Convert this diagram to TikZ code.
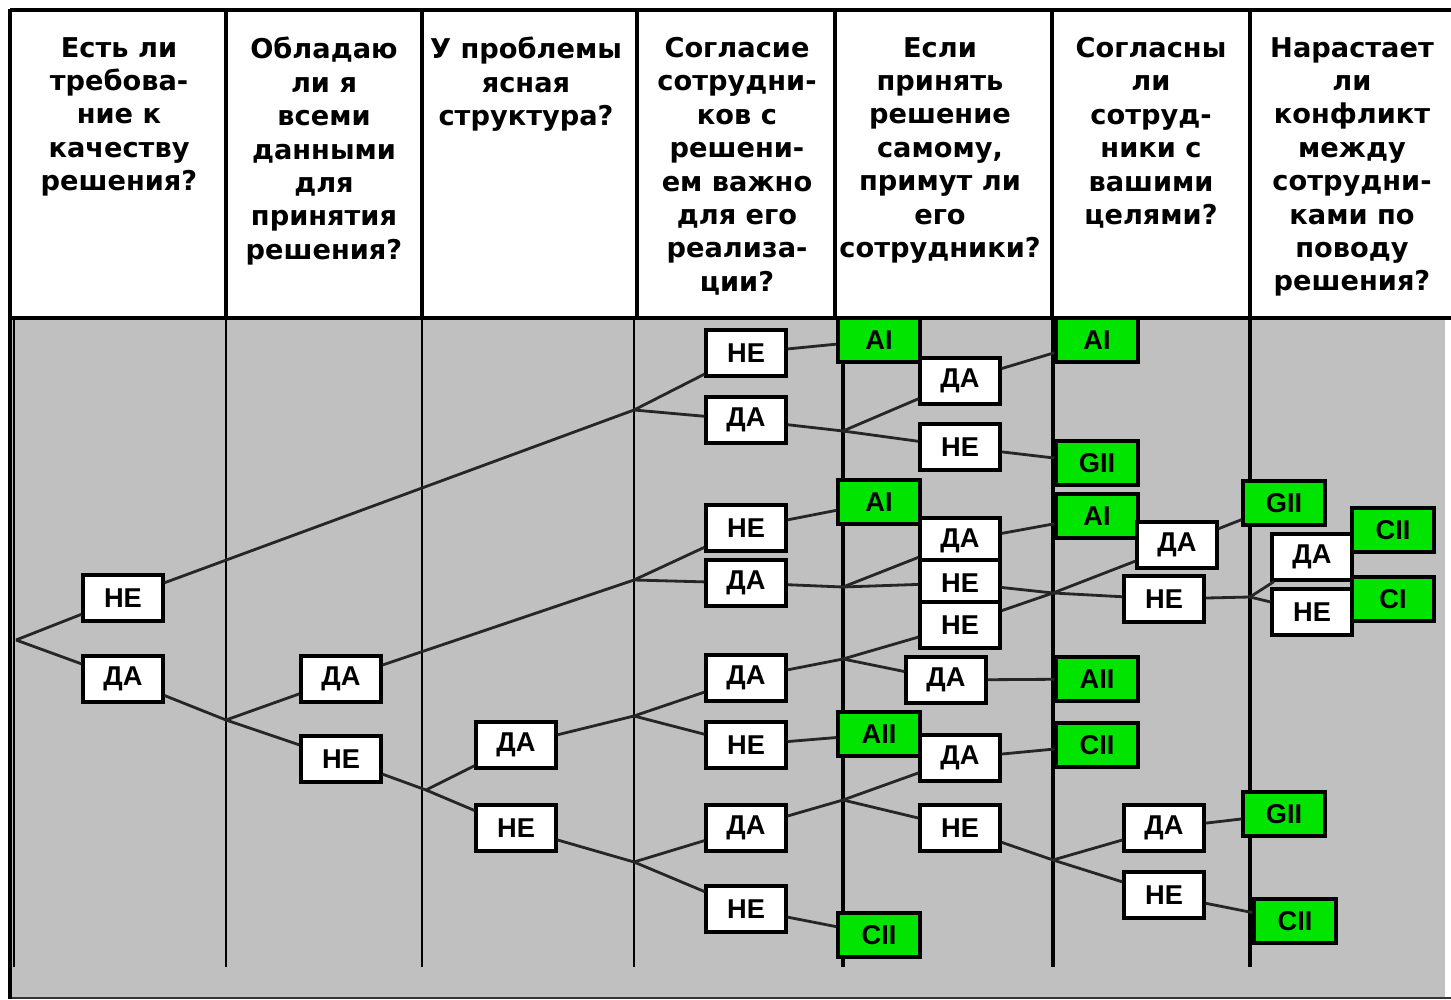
\documentclass[tikz,border=0pt]{standalone}
\usepackage{fontspec}
\setmainfont{DejaVu Sans}
\newfontfamily\boxfont{Liberation Sans}
\usetikzlibrary{positioning}
\definecolor{cellgray}{RGB}{192,192,192}
\definecolor{resgreen}{RGB}{0,228,0}

\begin{document}
\begin{tikzpicture}[x=0.02cm, y=-0.02cm,
  ans/.style={draw=black, line width=1.8pt, fill=white, minimum width=1.6cm, minimum height=0.92cm, inner sep=0pt, font=\boxfont\bfseries\fontsize{15.5}{15.5}\selectfont},
  res/.style={ans, fill=resgreen, minimum width=1.64cm, minimum height=0.88cm},
  head/.style={anchor=north, align=center, inner sep=0pt, font=\bfseries\fontsize{15.5}{19}\selectfont},
  link/.style={draw=black!85, line width=1.6pt},
  thinline/.style={line width=1.1pt},
  thickline/.style={line width=2pt}]
\useasboundingbox (0,0) rectangle (1451,1000);
\fill [white] (0,0) rectangle (1451,1000);
\fill [cellgray] (12,320) rectangle (1445,997);
\draw [black!80, line width=1pt] (10,998) -- (1451,998);
\draw [line width=2.3pt] (10,10) -- (1451,10);
\draw [line width=2.3pt] (10,318) -- (1451,318);
\draw [line width=2.3pt] (10,9) -- (10,999);
\foreach \x in {226,422,637,835,1052,1250}
  \draw [line width=2.3pt] (\x,10) -- (\x,318);
\foreach \x in {14,226,422,634}
  \draw [thinline] (\x,320) -- (\x,967);
\foreach \x in {843,1053,1250}
  \draw [thickline] (\x,320) -- (\x,967);

\node [head] (q1) at (119,37) {Есть ли\\требова-\\ние к\\качеству\\решения?};
\node [head] (q2) at (324,37) {Обладаю\\ли я\\всеми\\данными\\для\\принятия\\решения?};
\node [head] (q3) at (526,37) {У проблемы\\ясная\\структура?};
\node [head] (q4) at (737,37) {Согласие\\сотрудни-\\ков с\\решени-\\ем важно\\для его\\реализа-\\ции?};
\node [head] (q5) at (940,37) {Если\\принять\\решение\\самому,\\примут ли\\его\\сотрудники?};
\node [head] (q6) at (1151,37) {Согласны\\ли\\сотруд-\\ники с\\вашими\\целями?};
\node [head] (q7) at (1352,37) {Нарастает\\ли\\конфликт\\между\\сотрудни-\\ками по\\поводу\\решения?};

\coordinate (r) at (16,640);
\coordinate (p2) at (226,720);
\coordinate (p3) at (426,790);
\coordinate (p4a) at (634,410);
\coordinate (p4b) at (634,580);
\coordinate (p4c) at (634,716);
\coordinate (p4d) at (634,862);
\coordinate (p5a) at (843,431);
\coordinate (p5b) at (843,587);
\coordinate (p5c) at (843,659);
\coordinate (p5d) at (843,800);
\coordinate (p6a) at (1053,593);
\coordinate (p6b) at (1053,860);
\coordinate (p7) at (1250,597);

\node [ans] (ne1) at (123,598) {НЕ};
\node [ans] (da1) at (123,679) {ДА};
\node [ans] (da2) at (341,679) {ДА};
\node [ans] (ne2) at (341,759) {НЕ};
\node [ans] (da3) at (516,745) {ДА};
\node [ans] (ne3) at (516,828) {НЕ};
\node [ans] (ne4a) at (746,353) {НЕ};
\node [ans] (da4a) at (746,420) {ДА};
\node [ans] (ne4b) at (746,528) {НЕ};
\node [ans] (da4b) at (746,583) {ДА};
\node [ans] (da4c) at (746,678) {ДА};
\node [ans] (ne4c) at (746,745) {НЕ};
\node [ans] (da4d) at (746,828) {ДА};
\node [ans] (ne4d) at (746,909) {НЕ};
\node [res] (ai5a) at (879,340) {AI};
\node [res] (ai5b) at (879,502) {AI};
\node [res] (aii5) at (879,734) {AII};
\node [res] (cii5) at (879,935) {CII};
\node [ans] (da5a) at (960,381) {ДА};
\node [ans] (ne5a) at (960,447) {НЕ};
\node [ans] (da5b) at (960,541) {ДА};
\node [ans] (ne5b) at (960,583) {НЕ};
\node [ans] (ne5c) at (960,625) {НЕ};
\node [ans] (da5c) at (946,680) {ДА};
\node [ans] (da5d) at (960,758) {ДА};
\node [ans] (ne5d) at (960,828) {НЕ};
\node [res] (ai6a) at (1097,340) {AI};
\node [res] (gii6) at (1097,463) {GII};
\node [res] (ai6b) at (1097,516) {AI};
\node [res] (aii6) at (1097,679) {AII};
\node [res] (cii6) at (1097,745) {CII};
\node [ans] (da6a) at (1177,545) {ДА};
\node [ans] (ne6a) at (1164,599) {НЕ};
\node [ans] (da6b) at (1164,828) {ДА};
\node [ans] (ne6b) at (1164,895) {НЕ};
\node [res] (gii7a) at (1284,503) {GII};
\node [ans] (da7) at (1312,557) {ДА};
\node [ans] (ne7) at (1312,612) {НЕ};
\node [res] (cii7a) at (1393,530) {CII};
\node [res] (ci7) at (1393,599) {CI};
\node [res] (gii7b) at (1284,814) {GII};
\node [res] (cii7b) at (1295,921) {CII};

\draw [link] (r) -- (ne1);
\draw [link] (r) -- (da1);
\draw [link] (ne1) -- (p4a);
\draw [link] (da1) -- (p2);
\draw [link] (p2) -- (da2);
\draw [link] (p2) -- (ne2);
\draw [link] (da2) -- (p4b);
\draw [link] (ne2) -- (p3);
\draw [link] (p3) -- (da3);
\draw [link] (p3) -- (ne3);
\draw [link] (da3) -- (p4c);
\draw [link] (ne3) -- (p4d);
\draw [link] (p4a) -- (ne4a);
\draw [link] (p4a) -- (da4a);
\draw [link] (p4b) -- (ne4b);
\draw [link] (p4b) -- (da4b);
\draw [link] (p4c) -- (da4c);
\draw [link] (p4c) -- (ne4c);
\draw [link] (p4d) -- (da4d);
\draw [link] (p4d) -- (ne4d);
\draw [link] (ne4a) -- (ai5a);
\draw [link] (ne4b) -- (ai5b);
\draw [link] (ne4c) -- (aii5);
\draw [link] (ne4d) -- (cii5);
\draw [link] (da4a) -- (p5a);
\draw [link] (p5a) -- (da5a);
\draw [link] (p5a) -- (ne5a);
\draw [link] (da4b) -- (p5b);
\draw [link] (p5b) -- (da5b);
\draw [link] (p5b) -- (ne5b);
\draw [link] (da4c) -- (p5c);
\draw [link] (p5c) -- (ne5c);
\draw [link] (p5c) -- (da5c);
\draw [link] (da4d) -- (p5d);
\draw [link] (p5d) -- (da5d);
\draw [link] (p5d) -- (ne5d);
\draw [link] (da5a) -- (ai6a);
\draw [link] (ne5a) -- (gii6);
\draw [link] (da5b) -- (ai6b);
\draw [link] (ne5b) -- (p6a);
\draw [link] (ne5c) -- (p6a);
\draw [link] (p6a) -- (da6a);
\draw [link] (p6a) -- (ne6a);
\draw [link] (da5c) -- (aii6);
\draw [link] (da5d) -- (cii6);
\draw [link] (ne5d) -- (p6b);
\draw [link] (p6b) -- (da6b);
\draw [link] (p6b) -- (ne6b);
\draw [link] (da6a) -- (gii7a);
\draw [link] (ne6a) -- (p7);
\draw [link] (p7) -- (da7);
\draw [link] (p7) -- (ne7);
\draw [link] (da6b) -- (gii7b);
\draw [link] (ne6b) -- (cii7b);
\end{tikzpicture}
\end{document}
